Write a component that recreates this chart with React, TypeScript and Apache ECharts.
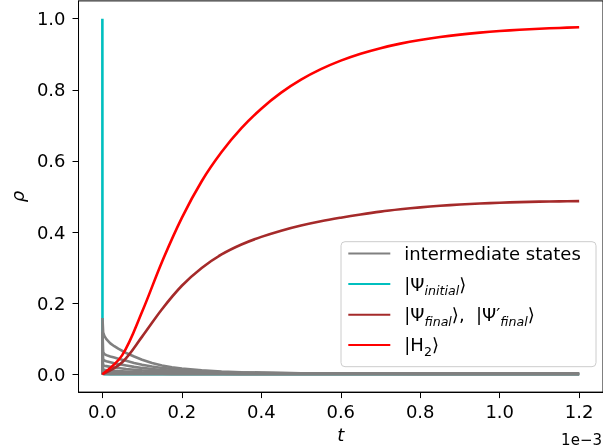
import React, { useEffect, useRef } from 'react';
import * as echarts from 'echarts';

// time samples (units of 1e-3) for the fast-decaying states
const tFast = [0, 0.0003, 0.002, 0.005, 0.01, 0.02, 0.03, 0.04, 0.06, 0.08, 0.1, 0.125, 0.15, 0.175, 0.2, 0.25, 0.3, 0.35, 0.4, 0.45, 0.5, 0.6, 0.7, 0.8, 0.9, 1.0, 1.1, 1.2];
// time samples (units of 1e-3) for the slowly rising states
const tSlow = [0, 0.05, 0.1, 0.15, 0.2, 0.25, 0.3, 0.35, 0.4, 0.45, 0.5, 0.55, 0.6, 0.65, 0.7, 0.75, 0.8, 0.85, 0.9, 0.95, 1.0, 1.05, 1.1, 1.15, 1.2];

const h2Values = [0, 0.054, 0.176, 0.316, 0.44, 0.543, 0.625, 0.692, 0.747, 0.792, 0.8285, 0.858, 0.882, 0.9014, 0.9171, 0.9298, 0.9401, 0.9485, 0.9552, 0.9607, 0.9652, 0.9688, 0.9717, 0.974, 0.9759];

const finalValues = [0, 0.034, 0.106, 0.183, 0.249, 0.299, 0.337, 0.365, 0.3865, 0.404, 0.4185, 0.4305, 0.4405, 0.4495, 0.4575, 0.464, 0.4695, 0.474, 0.4775, 0.4803, 0.4825, 0.4842, 0.4855, 0.4864, 0.4871];

const initialValues = [1.0, 0.02, 0.005, 0, 0, 0, 0, 0, 0, 0, 0, 0, 0, 0, 0, 0, 0, 0, 0, 0, 0, 0, 0, 0, 0, 0, 0, 0];

const gray1 = [0, 0.158, 0.118, 0.108, 0.099, 0.087, 0.079, 0.072, 0.06, 0.05, 0.041, 0.032, 0.025, 0.02, 0.016, 0.011, 0.008, 0.006, 0.005, 0.004, 0.003, 0.002, 0.002, 0.001, 0.001, 0.001, 0.001, 0.001];
const gray2 = [0, 0.12, 0.062, 0.057, 0.054, 0.05, 0.047, 0.044, 0.038, 0.032, 0.027, 0.022, 0.018, 0.015, 0.012, 0.009, 0.006, 0.005, 0.004, 0.003, 0.003, 0.002, 0.002, 0.002, 0.002, 0.002, 0.002, 0.002];
const gray3 = [0, 0.085, 0.042, 0.039, 0.037, 0.034, 0.031, 0.029, 0.025, 0.021, 0.018, 0.015, 0.012, 0.01, 0.008, 0.006, 0.005, 0.004, 0.003, 0.003, 0.003, 0.003, 0.003, 0.003, 0.003, 0.003, 0.003, 0.003];
const gray4 = [0, 0.06, 0.026, 0.024, 0.023, 0.021, 0.019, 0.018, 0.015, 0.013, 0.011, 0.009, 0.008, 0.007, 0.006, 0.004, 0.003, 0.003, 0.002, 0.002, 0.002, 0.002, 0.002, 0.002, 0.002, 0.002, 0.002, 0.002];
const gray5 = [0, 0.04, 0.014, 0.013, 0.012, 0.011, 0.01, 0.009, 0.008, 0.007, 0.006, 0.005, 0.004, 0.004, 0.003, 0.002, 0.002, 0.001, 0.001, 0.001, 0.001, 0.001, 0.001, 0.001, 0.001, 0.001, 0.001, 0.001];
const gray6 = [0, 0.02, 0.007, 0.006, 0.006, 0.005, 0.005, 0.004, 0.004, 0.003, 0.003, 0.002, 0.002, 0.001, 0.001, 0.001, 0.001, 0.001, 0.001, 0.001, 0.001, 0.001, 0.001, 0.001, 0.001, 0.001, 0.001, 0.001];
const gray7 = [0, 0.008, 0.002, 0.001, 0.001, 0, 0, 0, 0, 0, 0, 0, 0, 0, 0, 0, 0, 0, 0, 0, 0, 0, 0, 0, 0, 0, 0, 0];
const grayCurves = [gray1, gray2, gray3, gray4, gray5, gray6, gray7];

const xTicks = [0, 0.2, 0.4, 0.6, 0.8, 1.0, 1.2];
const yTicks = [0, 0.2, 0.4, 0.6, 0.8, 1.0];

const NAME_GRAY = 'intermediate states';
const NAME_INIT = '|Ψ_initial⟩';
const NAME_FINAL = '|Ψ_final⟩, |Ψ′_final⟩';
const NAME_H2 = '|H₂⟩';
const legendNames = [NAME_GRAY, NAME_INIT, NAME_FINAL, NAME_H2];

const FONT = 'DejaVu Sans';
const LW = 2.6;

export default function App() {
  const ref = useRef<HTMLDivElement>(null);
  useEffect(() => {
    const chart = echarts.init(ref.current as HTMLDivElement, null, { renderer: 'svg' });
    const pair = (ts: number[], vals: number[]) => ts.map((t, i) => [t, vals[i]]);
    const line = (name: string, ts: number[], vals: number[], color: string, smooth: number | false) => ({
      type: 'line',
      name,
      data: pair(ts, vals),
      symbol: 'none',
      showSymbol: false,
      smooth,
      lineStyle: { color, width: LW },
      itemStyle: { color },
      emphasis: { disabled: true },
      animation: false,
      z: 2,
    });
    const richMap: Record<string, string> = {
      [NAME_GRAY]: '{m|intermediate states}',
      [NAME_INIT]: '{m||Ψ}{s|initial}{m|⟩}',
      [NAME_FINAL]: '{m||Ψ}{s|final}{m|⟩,  |Ψ′}{s|final}{m|⟩}',
      [NAME_H2]: '{m||H}{n|2}{m|⟩}',
    };
    // legend rows: one legend component per row, inside a shared frame
    const rowCenters = [256, 286.7, 317.3, 347.5];
    const legends = legendNames.map((name, i) => ({
      show: true,
      orient: 'vertical',
      left: 347.3,
      top: rowCenters[i] - 13,
      data: [name],
      itemWidth: 42,
      itemHeight: 26,
      padding: 0,
      selectedMode: false,
      z: 5,
      itemStyle: { color: 'rgba(0,0,0,0)', borderWidth: 0, opacity: 0 },
      formatter: (n: string) => richMap[n] || n,
      textStyle: {
        color: '#000',
        fontFamily: FONT,
        fontSize: 18,
        padding: [0, 0, 0, 9],
        rich: {
          m: { fontSize: 18, lineHeight: 26, verticalAlign: 'middle', color: '#000', fontFamily: FONT },
          s: { fontSize: 12.6, lineHeight: 12, fontStyle: 'italic', verticalAlign: 'bottom', color: '#000', fontFamily: FONT },
          n: { fontSize: 12.6, lineHeight: 12, verticalAlign: 'bottom', color: '#000', fontFamily: FONT },
        },
      },
    }));
    const option: any = {
      animation: false,
      textStyle: { fontFamily: FONT },
      grid: {
        left: 77,
        top: 0.9,
        width: 528.6,
        height: 393.7,
        show: true,
        borderColor: '#000',
        borderWidth: 1,
        backgroundColor: 'transparent',
      },
      xAxis: {
        type: 'value',
        min: -0.06,
        max: 1.26,
        name: 't',
        nameLocation: 'middle',
        nameGap: 32,
        nameTextStyle: { fontStyle: 'italic', fontSize: 18, color: '#000', fontFamily: FONT },
        axisLine: { show: true, onZero: false, lineStyle: { color: '#000', width: 1 } },
        axisTick: { show: true, customValues: xTicks, length: 6, lineStyle: { color: '#000', width: 1 } },
        axisLabel: {
          customValues: xTicks,
          formatter: (v: number) => v.toFixed(1),
          color: '#000',
          fontSize: 18,
          fontFamily: FONT,
          margin: 10,
        },
        splitLine: { show: false },
      },
      yAxis: {
        type: 'value',
        min: -0.05,
        max: 1.05,
        name: 'ρ',
        nameLocation: 'middle',
        nameGap: 50,
        nameTextStyle: { fontStyle: 'italic', fontSize: 18, color: '#000', fontFamily: FONT },
        axisLine: { show: true, onZero: false, lineStyle: { color: '#000', width: 1 } },
        axisTick: { show: true, customValues: yTicks, length: 6, lineStyle: { color: '#000', width: 1 } },
        axisLabel: {
          customValues: yTicks,
          formatter: (v: number) => v.toFixed(1),
          color: '#000',
          fontSize: 18,
          fontFamily: FONT,
          margin: 13,
        },
        splitLine: { show: false },
      },
      legend: legends,
      graphic: [
        {
          type: 'rect',
          z: 4,
          shape: { x: 341, y: 241.7, width: 255, height: 125, r: 4 },
          style: { fill: 'rgba(255,255,255,0.8)', stroke: '#cccccc', lineWidth: 1 },
          silent: true,
        },
        {
          type: 'text',
          x: 602,
          y: 439.5,
          z: 5,
          style: {
            text: '1e−3',
            fill: '#000',
            fontSize: 15,
            fontFamily: FONT,
            align: 'right',
            verticalAlign: 'middle',
            textAlign: 'right',
            textVerticalAlign: 'middle',
          },
        },
      ],
      series: [
        line(NAME_INIT, tFast, initialValues, '#00bfbf', false),
        ...grayCurves.map((g) => line(NAME_GRAY, tFast, g, '#808080', false)),
        line(NAME_FINAL, tSlow, finalValues, '#a52a2a', 0.35),
        line(NAME_H2, tSlow, h2Values, '#ff0000', 0.35),
      ],
    };
    chart.setOption(option);
    return () => chart.dispose();
  }, []);
  return <div ref={ref} style={{ position: 'fixed', left: 0, top: 0, width: 603, height: 448 }} />;
}
